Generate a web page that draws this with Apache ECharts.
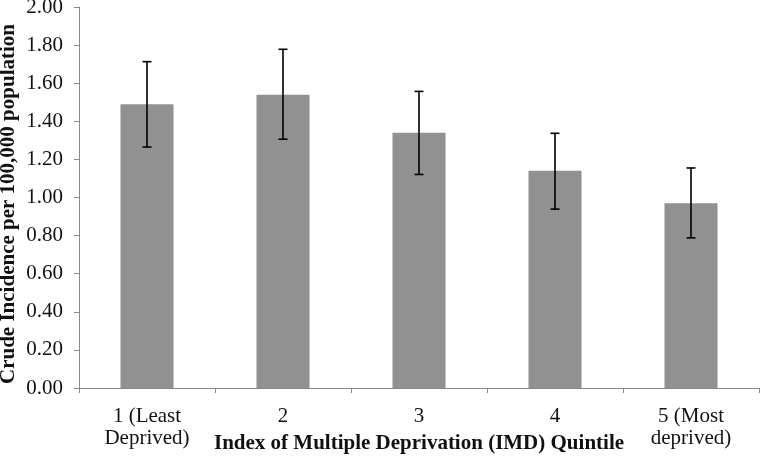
<!DOCTYPE html>
<html><head><meta charset="utf-8">
<script src="https://cdn.jsdelivr.net/npm/echarts@6/dist/echarts.min.js"></script>
<style>html,body{margin:0;padding:0;background:#fff}#c{width:760px;height:457px}</style>
</head><body><div id="c"></div>
<script>
var categories = ['1 (Least\nDeprived)', '2', '3', '4', '5 (Most\ndeprived)'];
var values = [1.49, 1.54, 1.34, 1.14, 0.97];
var errLow = [1.265, 1.306, 1.121, 0.939, 0.788];
var errHigh = [1.713, 1.778, 1.557, 1.337, 1.155];
var yTicks = [0, 0.2, 0.4, 0.6, 0.8, 1.0, 1.2, 1.4, 1.6, 1.8, 2.0];
var xTitle = 'Index of Multiple Deprivation (IMD) Quintile';
var yTitle = 'Crude Incidence per 100,000 population';

var chart = echarts.init(document.getElementById('c'));
var font = 'Liberation Serif, Times New Roman, serif';
var errData = categories.map(function (c, i) { return [i, errLow[i], errHigh[i]]; });
chart.setOption({
  animation: false,
  grid: { left: 79, right: 1, top: 7, bottom: 69, containLabel: false, outerBoundsMode: 'none' },
  xAxis: {
    type: 'category', data: categories,
    axisLine: { lineStyle: { color: '#888', width: 1 } },
    axisTick: { show: true, length: 5, lineStyle: { color: '#888' } },
    axisLabel: { color: '#111', fontFamily: font, fontSize: 21, lineHeight: 22, margin: 17 },
    name: xTitle,
    nameLocation: 'middle', nameGap: 45, nameMoveOverlap: false,
    nameTextStyle: { color: '#111', fontFamily: font, fontSize: 21, fontWeight: 'bold' }
  },
  yAxis: {
    type: 'value', min: yTicks[0], max: yTicks[yTicks.length - 1], interval: 0.2,
    axisLine: { show: true, lineStyle: { color: '#888' } },
    axisTick: { show: true, length: 5, lineStyle: { color: '#888' } },
    splitLine: { show: false },
    axisLabel: { color: '#111', fontFamily: font, fontSize: 21, margin: 16,
      formatter: function (v) { return v.toFixed(2); } }
  },
  graphic: [{
    type: 'text', x: 9, y: 204, rotation: Math.PI / 2,
    style: { text: yTitle, fill: '#111', font: 'bold 21px ' + font, align: 'center', verticalAlign: 'middle' }
  }],
  series: [{
    type: 'bar', data: values, barWidth: '39%',
    itemStyle: { color: '#919191' }
  }, {
    type: 'custom', data: errData, z: 10,
    renderItem: function (params, api) {
      var x = api.value(0);
      var lo = api.coord([x, api.value(1)]);
      var hi = api.coord([x, api.value(2)]);
      var hw = 4.5;
      var st = { stroke: '#000', lineWidth: 1.6 };
      return { type: 'group', children: [
        { type: 'line', shape: { x1: lo[0], y1: lo[1], x2: hi[0], y2: hi[1] }, style: st },
        { type: 'line', shape: { x1: lo[0] - hw, y1: lo[1], x2: lo[0] + hw, y2: lo[1] }, style: st },
        { type: 'line', shape: { x1: hi[0] - hw, y1: hi[1], x2: hi[0] + hw, y2: hi[1] }, style: st }
      ]};
    }
  }]
});
</script></body></html>
